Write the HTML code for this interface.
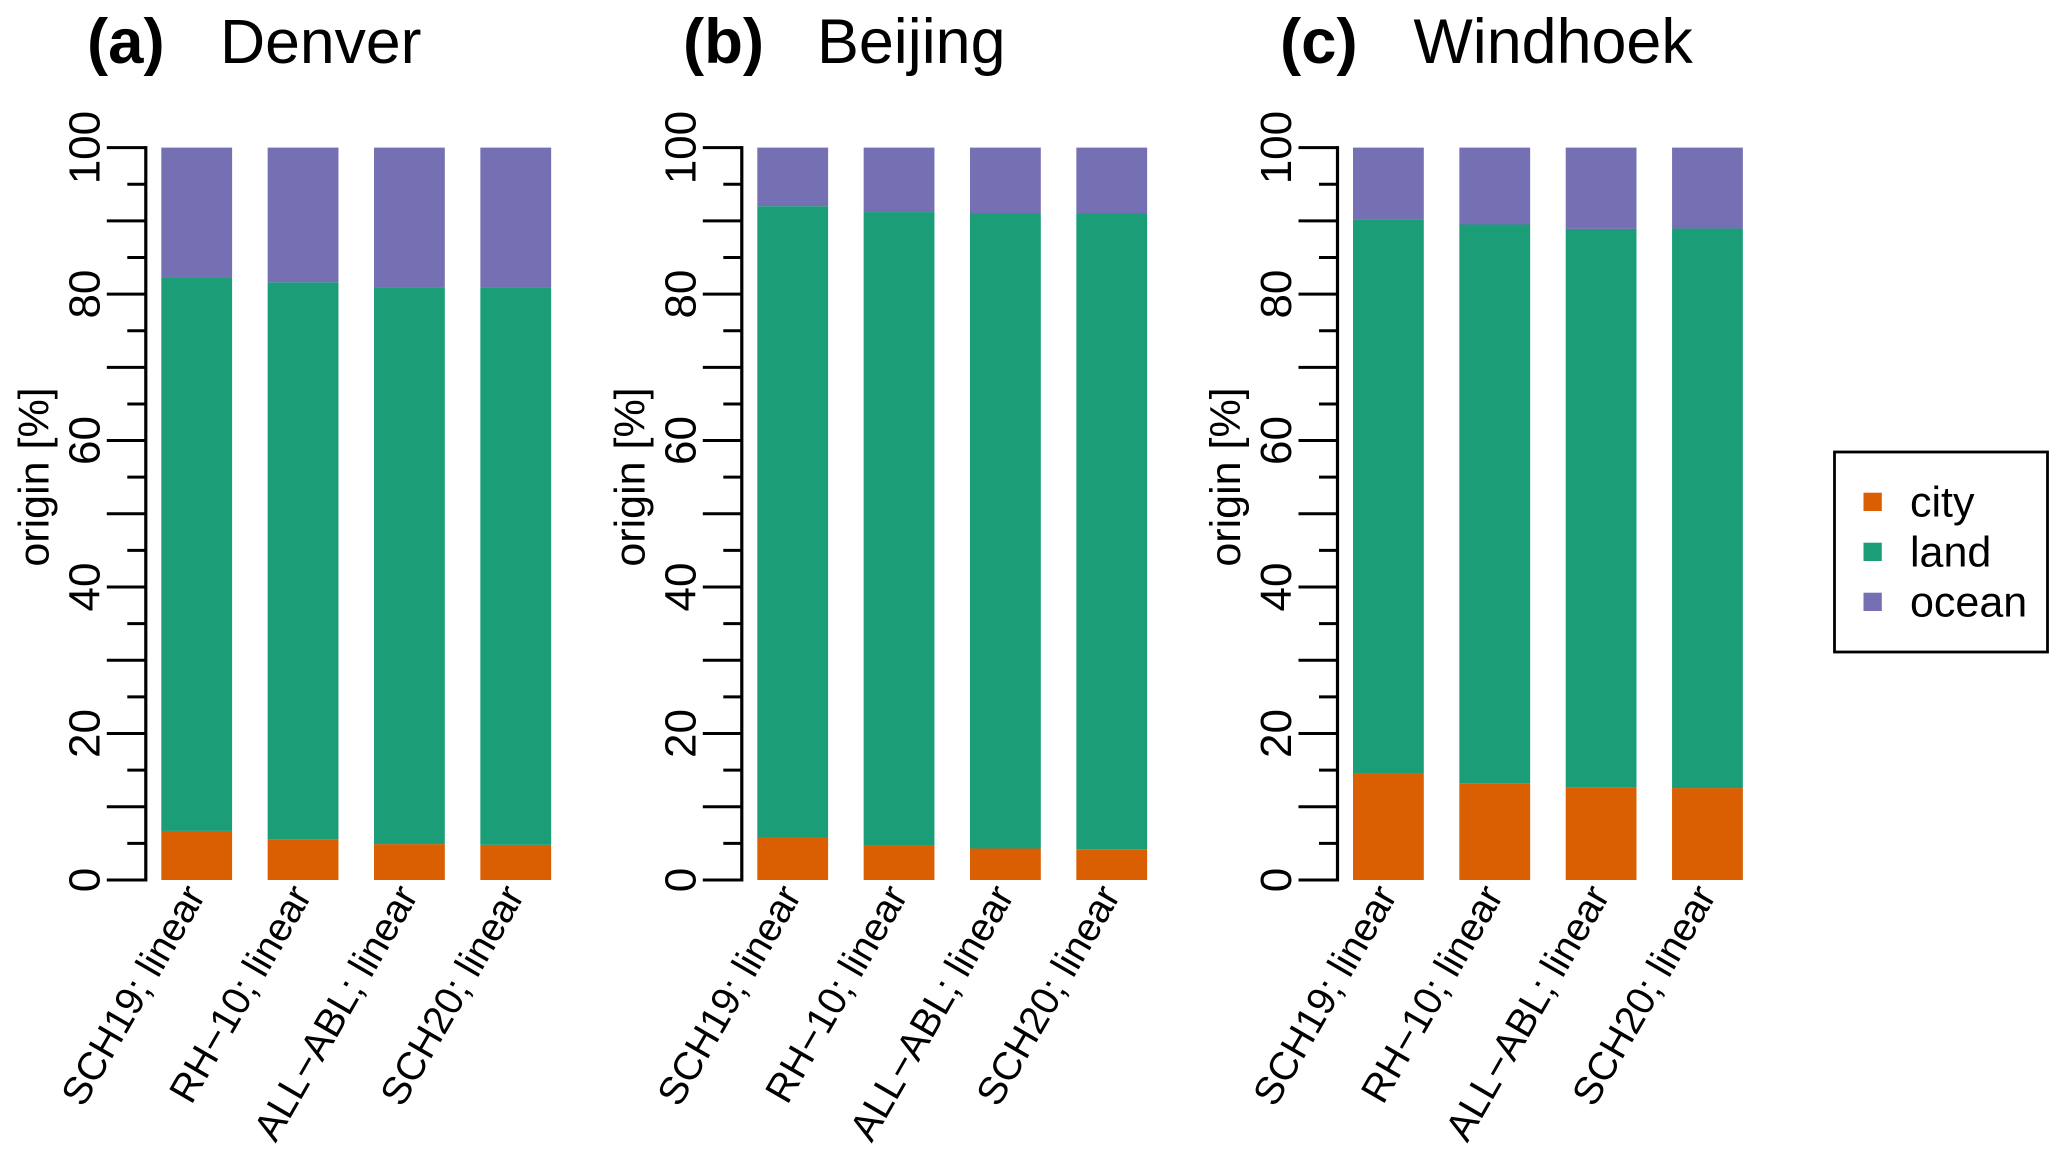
<!DOCTYPE html>
<html lang="en">
<head>
<meta charset="utf-8">
<title>Origin by city</title>
<style>
  html, body { margin: 0; padding: 0; background: #fff; }
  svg { display: block; font-family: "Liberation Sans", Arial, sans-serif; fill: #000; }
</style>
</head>
<body>
<svg id="chart" xmlns="http://www.w3.org/2000/svg" width="2067" height="1159" viewBox="0 0 2067 1159">
  <rect x="0" y="0" width="2067" height="1159" fill="#fff"/>

  <g>
    <text x="87" y="63" font-size="63.5" font-weight="bold">(a)</text>
    <text x="220" y="63" font-size="62.5">Denver</text>
  </g>
  <g>
    <text x="683" y="63" font-size="63.5" font-weight="bold">(b)</text>
    <text x="817" y="63" font-size="62.8">Beijing</text>
  </g>
  <g>
    <text x="1280" y="63" font-size="63.5" font-weight="bold">(c)</text>
    <text x="1413.5" y="63" font-size="62.8">Windhoek</text>
  </g>

  <text transform="translate(48.5 477) rotate(-90)" text-anchor="middle" font-size="43">origin [%]</text>
  <text transform="translate(644.5 477) rotate(-90)" text-anchor="middle" font-size="43">origin [%]</text>
  <text transform="translate(1240 477) rotate(-90)" text-anchor="middle" font-size="43">origin [%]</text>

  <g id="panels"></g>

  <g>
    <rect x="1834.5" y="452" width="213" height="200" fill="#fff" stroke="#000" stroke-width="2.8"/>
    <g>
      <rect x="1863.5" y="492.7" width="18.3" height="18.3" fill="#D95F02"/>
      <text x="1910" y="516.5" font-size="43">city</text>
    </g>
    <g>
      <rect x="1863.5" y="542.7" width="18.3" height="18.3" fill="#1B9E77"/>
      <text x="1910" y="566.5" font-size="43">land</text>
    </g>
    <g>
      <rect x="1863.5" y="592.7" width="18.3" height="18.3" fill="#7570B3"/>
      <text x="1910" y="616.5" font-size="43">ocean</text>
    </g>
  </g>
</svg>

<script>
// Data
const categories = ["SCH19; linear", "RH\u221210; linear", "ALL\u2212ABL; linear", "SCH20; linear"];
const yTickLabels = [0, 20, 40, 60, 80, 100];
const yTickValues = [0, 5, 10, 15, 20, 25, 30, 35, 40, 45, 50, 55, 60, 65, 70, 75, 80, 85, 90, 95, 100];

const denverCity  = [6.7, 5.5, 4.9, 4.8];
const denverLand  = [75.5, 76.1, 76.05, 76.15];
const denverOcean = [17.8, 18.4, 19.05, 19.05];

const beijingCity  = [5.8, 4.7, 4.3, 4.2];
const beijingLand  = [86.2, 86.5, 86.7, 86.8];
const beijingOcean = [8.0, 8.8, 9.0, 9.0];

const windhoekCity  = [14.55, 13.2, 12.6, 12.55];
const windhoekLand  = [75.65, 76.3, 76.3, 76.4];
const windhoekOcean = [9.8, 10.5, 11.1, 11.05];

// Layout
const NS = "http://www.w3.org/2000/svg";
const root = document.getElementById("panels");
const yBottom = 880;
const yTop = 147.6;
const barWidth = 70.8;
const barStep = 106.35;

function yScale(v) {
  return yBottom - (v / 100) * (yBottom - yTop);
}

function make(tag, attrs, parent) {
  const el = document.createElementNS(NS, tag);
  for (const k in attrs) {
    el.setAttribute(k, attrs[k]);
  }
  parent.appendChild(el);
  return el;
}

function drawPanel(key, offset, city, land, ocean) {
  const axisX = 145.8 + offset;
  const firstBar = 161.3 + offset;

  const g = make("g", {}, root);
  
  

  const axis = make("line", { x1: axisX, x2: axisX, y1: yScale(100) - 1.5, y2: yScale(0) + 1.5, stroke: "#000", "stroke-width": 3.2 }, g);
  
  

  yTickValues.forEach(function (v) {
    const isMajor = v % 10 === 0;
    const tick = make("line", { x1: axisX - (isMajor ? 39 : 18.5), x2: axisX, y1: yScale(v), y2: yScale(v), stroke: "#000", "stroke-width": 3 }, g);
    
    
  });

  yTickLabels.forEach(function (v) {
    const label = make("text", { transform: "translate(" + (99.3 + offset) + " " + yScale(v) + ") rotate(-90)", "text-anchor": "middle", "font-size": 44 }, g);
    label.textContent = String(v);
    
    
  });

  categories.forEach(function (name, i) {
    const x = firstBar + i * barStep;

    const cityBar = make("rect", { x: x, width: barWidth, y: yScale(city[i]), height: yScale(0) - yScale(city[i]), fill: "#D95F02" }, g);
    
    

    const landTop = city[i] + land[i];
    const landBar = make("rect", { x: x, width: barWidth, y: yScale(landTop), height: yScale(city[i]) - yScale(landTop), fill: "#1B9E77" }, g);
    
    

    const oceanTop = landTop + ocean[i];
    const oceanBar = make("rect", { x: x, width: barWidth, y: yScale(oceanTop), height: yScale(landTop) - yScale(oceanTop), fill: "#7570B3" }, g);
    
    

    const tx = x + barWidth / 2 + 9.5;
    const ty = yBottom + 15.5;
    const catLabel = make("text", { transform: "translate(" + tx + " " + ty + ") rotate(-60)", "text-anchor": "end", "font-size": 39.5 }, g);
    catLabel.textContent = name;
    
    
  });
}

drawPanel("a", 0, denverCity, denverLand, denverOcean);
drawPanel("b", 596, beijingCity, beijingLand, beijingOcean);
drawPanel("c", 1191.7, windhoekCity, windhoekLand, windhoekOcean);
</script>
</body>
</html>
